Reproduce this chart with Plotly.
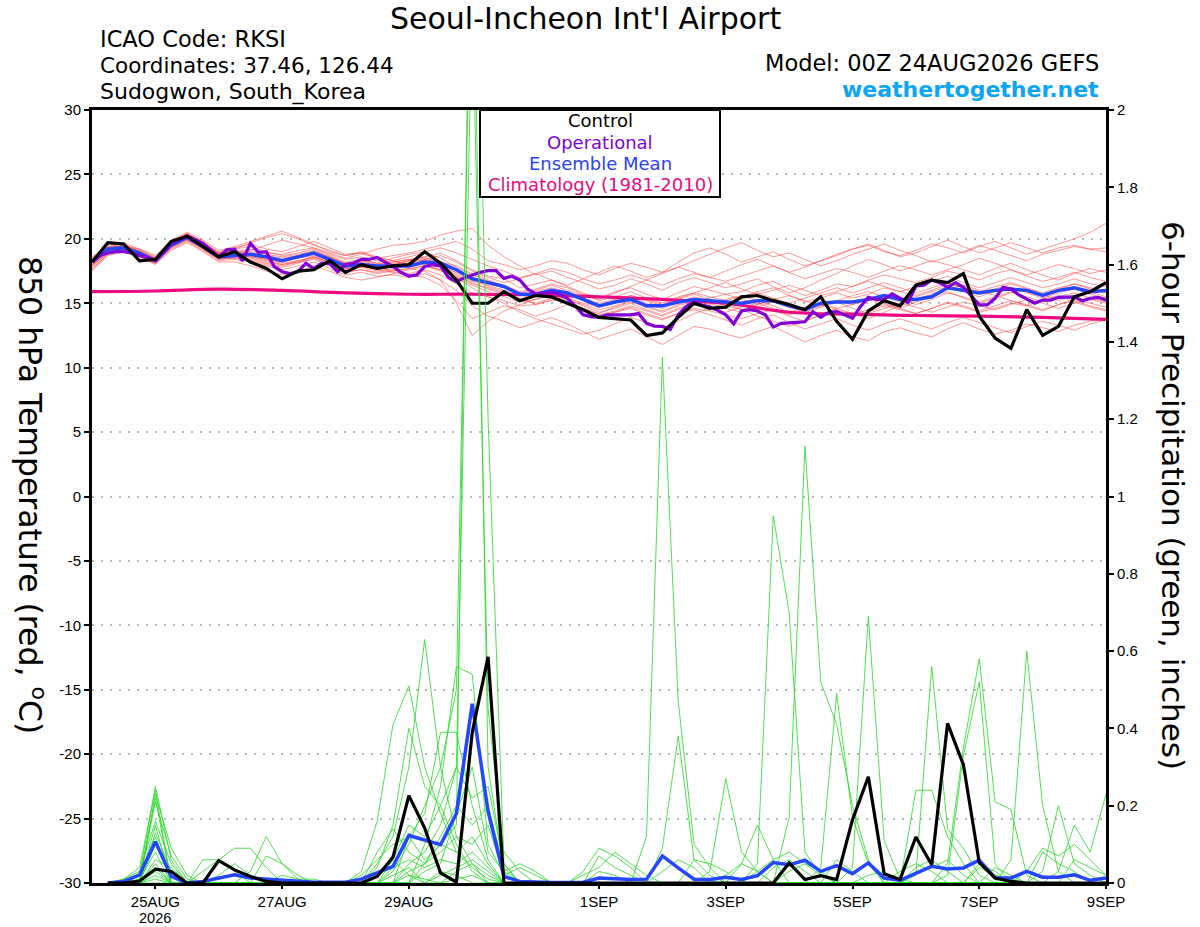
import pandas as pd
import plotly.graph_objects as go

START = "2026-08-24 00:00"

# 850 hPa temperature (deg C), 6-hourly from 00Z 24AUG
control_temp = [
    18.2, 19.7, 19.6, 18.3, 18.4, 19.8, 20.2, 19.4, 18.6, 19.0, 18.2, 17.7, 16.9,
    17.5, 17.6, 18.3, 17.4, 18.0, 17.7, 17.9, 18.0, 19.0, 18.1, 16.8, 15.0, 15.0,
    15.9, 15.2, 15.6, 15.5, 15.0, 14.5, 13.9, 13.8, 13.7, 12.5, 12.7, 13.9, 15.0,
    14.6, 14.7, 15.5, 15.6, 15.2, 14.9, 14.5, 15.5, 13.6, 12.2, 14.4, 15.2, 14.8,
    16.4, 16.8, 16.6, 17.3, 14.0, 12.3, 11.5, 14.5, 12.5, 13.2, 15.5, 15.9, 16.6,
]
mean_temp = [
    18.2, 19.2, 19.3, 18.9, 18.3, 19.5, 20.1, 19.4, 18.6, 18.7, 18.8, 18.6, 18.3,
    18.6, 18.9, 18.4, 17.9, 18.0, 17.9, 17.9, 17.9, 18.2, 18.1, 17.6, 16.9, 16.6,
    16.3, 15.7, 15.7, 16.0, 15.8, 15.3, 14.8, 15.1, 15.3, 14.8, 14.8, 15.1, 15.3,
    15.2, 15.1, 15.0, 15.2, 15.2, 14.8, 14.5, 15.0, 15.1, 15.1, 15.3, 15.6, 15.3,
    15.3, 15.5, 16.2, 16.0, 15.8, 16.0, 16.1, 16.0, 15.6, 16.0, 16.2, 15.9, 16.0,
]
# operational run, 3-hourly
oper_temp = [
    18.2, 18.7, 18.9, 19.0, 19.0, 18.9, 18.7, 18.55, 18.3, 18.9, 19.65, 19.95, 20.2,
    19.95, 19.65, 19.15, 18.6, 19.15, 19.2, 18.3, 19.65, 18.95, 19.0, 17.85, 17.45,
    17.3, 17.45, 18.1, 17.7, 18.1, 18.1, 17.45, 18.0, 18.1, 18.4, 18.4, 18.55, 18.2,
    17.85, 17.4, 17.1, 17.2, 17.85, 18.0, 17.9, 17.0, 16.67, 16.97, 17.2, 17.4, 17.53,
    17.53, 16.93, 17.1, 16.8, 16.1, 15.72, 15.8, 15.85, 15.7, 15.38, 14.8, 14.1, 13.96,
    13.9, 14.1, 14.1, 14.1, 14.1, 14.2, 13.44, 13.23, 13.2, 12.97, 14.1, 14.74, 15.13,
    14.87, 14.7, 14.45, 14.1, 13.4, 14.4, 14.5, 14.4, 14.1, 13.15, 13.44, 13.5, 13.53,
    13.56, 14.35, 13.9, 14.3, 14.35, 14.1, 13.83, 14.74, 15.46, 15.3, 15.3, 15.72, 15.38,
    15.05, 16.34, 16.4, 16.8, 16.6, 16.24, 16.6, 16.24, 15.56, 14.87, 14.87, 15.38, 16.24,
    16.1, 15.64, 15.3, 15.0, 15.25, 15.25, 15.46, 15.46, 15.5, 15.2, 15.38, 15.46, 15.25,
]
# climatology (1981-2010), daily at 00Z
clim_temp = [15.9, 15.95, 16.1, 16.0, 15.8, 15.7, 15.7, 15.65, 15.5,
             15.3, 15.0, 14.3, 14.15, 14.05, 14.0, 13.9, 13.75]

red_members = [
    [17.9, 19.0, 19.4, 19.1, 18.5, 19.8, 20.4, 19.8, 19.0, 19.3, 19.6, 19.2, 19.0,
     19.4, 19.8, 19.3, 18.8, 18.9, 18.5, 18.7, 18.9, 19.2, 19.5, 19.8, 19.2, 18.3,
     18.0, 17.6, 17.9, 18.3, 18.1, 17.6, 17.2, 17.7, 18.1, 17.8, 17.4, 18.2, 18.9,
     19.3, 18.8, 18.2, 18.6, 19.0, 18.4, 17.9, 18.3, 18.8, 19.2, 19.5, 19.0, 18.7,
     19.1, 19.6, 19.3, 18.9, 19.4, 19.8, 19.3, 18.8, 19.2, 19.6, 20.0, 20.5, 21.2],
    [18.0, 19.1, 19.0, 18.6, 18.0, 19.2, 19.8, 19.1, 18.3, 18.4, 18.2, 17.9, 17.6,
     17.9, 18.2, 17.7, 17.2, 17.4, 17.1, 17.2, 17.0, 17.3, 16.8, 16.0, 14.8, 14.0,
     13.6, 13.1, 13.5, 13.9, 13.4, 12.8, 12.2, 12.6, 13.0, 12.4, 11.8, 12.5, 13.2,
     13.0, 12.6, 12.3, 12.8, 13.2, 12.6, 12.0, 12.5, 12.9, 12.4, 12.1, 12.8, 13.1,
     12.7, 12.4, 13.0, 13.5, 13.0, 12.6, 12.9, 13.4, 13.1, 12.8, 13.3, 13.6, 13.8],
    [18.4, 19.4, 19.6, 19.0, 18.5, 19.7, 20.3, 19.6, 18.8, 19.0, 19.2, 18.9, 18.8,
     19.1, 19.3, 18.8, 18.4, 18.6, 18.3, 18.2, 18.4, 18.6, 18.9, 18.3, 17.6, 17.1,
     16.9, 16.2, 16.5, 16.8, 16.3, 15.8, 15.4, 15.9, 16.2, 15.7, 15.3, 15.8, 16.3,
     16.0, 15.7, 15.9, 16.4, 16.7, 16.1, 15.6, 16.0, 16.5, 16.3, 16.8, 17.2, 16.9,
     16.6, 17.0, 17.5, 17.2, 16.8, 17.3, 17.6, 17.1, 16.7, 17.0, 17.4, 17.0, 16.7],
    [17.6, 18.8, 19.1, 18.8, 18.2, 19.3, 19.9, 19.2, 18.4, 18.5, 18.3, 18.0, 17.8,
     18.1, 18.5, 18.0, 17.5, 17.6, 17.4, 17.6, 17.3, 17.6, 17.2, 16.5, 15.8, 15.5,
     15.2, 14.8, 14.9, 15.3, 15.0, 14.4, 14.0, 14.3, 14.6, 14.1, 13.7, 14.2, 14.6,
     14.4, 14.1, 13.8, 14.2, 14.5, 14.0, 13.6, 14.1, 14.4, 14.0, 14.3, 14.8, 14.5,
     14.2, 14.6, 15.0, 14.7, 14.3, 14.6, 15.0, 14.8, 14.4, 14.9, 15.2, 14.8, 14.5],
    [18.3, 19.2, 19.2, 18.7, 18.1, 19.4, 20.0, 19.3, 18.5, 18.8, 19.1, 19.5, 19.9,
     19.6, 19.3, 18.9, 18.5, 18.8, 19.2, 19.5, 19.6, 19.8, 20.3, 20.6, 20.8, 19.5,
     18.6, 17.9, 17.2, 17.5, 17.0, 16.6, 16.1, 16.4, 16.9, 16.5, 16.0, 16.6, 17.0,
     16.6, 16.2, 16.5, 16.9, 16.3, 15.8, 16.2, 16.8, 17.3, 17.9, 18.4, 18.0, 17.5,
     17.9, 18.3, 18.0, 17.6, 17.2, 17.7, 18.1, 17.6, 17.2, 16.8, 17.3, 17.7, 17.4],
    [17.8, 18.9, 19.3, 18.9, 18.4, 19.6, 20.2, 19.5, 18.7, 18.6, 18.5, 18.2, 18.0,
     18.3, 18.6, 18.2, 17.7, 17.9, 17.6, 17.4, 17.2, 17.0, 16.4, 15.2, 13.8, 14.3,
     14.8, 14.5, 14.0, 14.4, 14.9, 14.6, 14.2, 14.7, 15.1, 14.7, 14.3, 14.8, 15.2,
     14.9, 15.3, 15.6, 15.2, 14.8, 14.3, 14.7, 15.0, 14.6, 14.2, 13.8, 14.3, 14.8,
     15.3, 15.7, 16.1, 16.4, 16.0, 15.6, 15.2, 14.8, 15.3, 15.6, 15.1, 14.7, 14.4],
    [18.1, 19.3, 19.5, 19.2, 18.6, 19.9, 20.5, 19.9, 19.1, 19.4, 19.8, 20.2, 20.6,
     20.1, 19.6, 19.0, 18.7, 19.0, 18.6, 18.3, 18.0, 18.4, 18.7, 18.2, 17.5, 17.0,
     16.6, 16.9, 17.3, 16.8, 16.4, 16.9, 17.4, 17.9, 17.5, 17.0, 17.4, 17.8, 18.3,
     18.8, 19.3, 19.7, 19.1, 18.6, 18.9, 18.4, 17.9, 18.3, 18.8, 19.2, 19.6, 19.1,
     18.7, 18.2, 18.6, 19.0, 19.5, 19.1, 18.7, 18.3, 18.8, 19.1, 19.4, 19.2, 19.3],
    [17.5, 18.7, 19.0, 18.6, 18.1, 19.1, 19.7, 19.0, 18.2, 18.2, 17.9, 17.5, 17.2,
     17.4, 17.9, 17.5, 17.0, 16.8, 17.0, 17.3, 17.6, 17.9, 17.6, 17.0, 16.2, 15.5,
     15.0, 14.3, 13.8, 13.4, 13.0, 12.6, 12.9, 13.4, 13.9, 13.5, 13.1, 13.6, 14.2,
     14.6, 15.0, 14.5, 14.0, 13.6, 13.2, 13.6, 14.1, 14.6, 14.9, 15.3, 15.0, 14.6,
     15.1, 15.5, 15.9, 15.4, 15.0, 15.4, 15.8, 16.1, 15.7, 15.2, 15.6, 15.9, 15.5],
    [18.2, 19.1, 19.4, 19.0, 18.3, 19.5, 20.2, 19.4, 18.6, 18.9, 18.9, 18.7, 18.5,
     18.7, 19.1, 18.6, 18.0, 18.2, 17.9, 18.1, 18.3, 18.5, 18.2, 17.9, 17.3, 16.8,
     16.4, 15.9, 16.1, 16.5, 16.2, 15.7, 15.2, 15.5, 15.9, 15.4, 15.0, 15.5, 15.8,
     15.5, 15.2, 15.5, 15.9, 16.2, 15.6, 15.1, 15.4, 15.8, 15.4, 15.7, 16.2, 15.9,
     15.6, 16.0, 16.5, 16.2, 15.9, 16.3, 16.6, 16.2, 15.8, 16.2, 16.5, 16.1, 15.8],
    [18.5, 19.5, 19.7, 19.2, 18.7, 19.8, 20.4, 19.7, 18.9, 19.1, 18.7, 18.4, 18.2,
     18.5, 18.8, 18.4, 17.9, 18.1, 17.8, 17.5, 17.7, 17.9, 17.5, 17.1, 16.6, 16.1,
     15.7, 15.3, 15.0, 15.4, 15.1, 14.5, 14.0, 14.3, 14.7, 14.2, 13.8, 14.2, 14.5,
     14.1, 13.7, 13.3, 13.8, 14.1, 13.5, 13.0, 13.4, 13.8, 13.3, 12.9, 13.4, 13.8,
     13.4, 13.0, 13.5, 13.9, 13.5, 13.1, 12.7, 13.2, 13.6, 13.3, 12.9, 13.4, 13.7],
    [17.9, 18.9, 19.1, 18.8, 18.3, 19.6, 20.3, 19.6, 18.9, 19.2, 19.4, 19.0, 18.7,
     18.9, 19.2, 18.7, 18.2, 18.4, 18.1, 18.5, 18.8, 19.0, 19.3, 18.9, 18.4, 17.9,
     17.5, 17.0, 17.3, 17.7, 17.4, 16.9, 16.5, 16.8, 17.2, 16.8, 16.4, 16.9, 17.3,
     17.0, 16.7, 17.1, 17.5, 17.9, 17.4, 16.9, 17.3, 17.7, 17.4, 17.0, 17.5, 17.9,
     17.6, 17.2, 17.6, 18.0, 18.5, 18.1, 17.6, 17.2, 17.6, 18.0, 17.7, 17.3, 17.6],
    [18.3, 19.3, 19.2, 18.8, 18.2, 19.4, 20.0, 19.3, 18.5, 18.7, 18.6, 18.4, 18.1,
     18.3, 18.6, 18.1, 17.6, 17.8, 17.7, 17.8, 17.9, 18.1, 17.8, 17.2, 16.5, 16.2,
     15.8, 15.3, 15.6, 15.9, 15.3, 14.8, 14.3, 14.6, 15.0, 14.5, 14.1, 14.6, 15.0,
     15.4, 15.7, 15.3, 14.9, 15.3, 15.6, 15.2, 14.8, 15.2, 15.6, 15.9, 15.5, 15.1,
     15.5, 15.9, 16.3, 15.9, 15.5, 15.9, 16.2, 15.8, 15.4, 15.8, 16.1, 15.7, 15.4],
    [18.0, 19.0, 19.3, 19.0, 18.4, 19.6, 20.2, 19.5, 18.8, 19.2, 19.7, 20.1, 20.4,
     20.0, 19.5, 19.1, 18.7, 18.9, 18.5, 18.3, 18.6, 18.9, 18.5, 17.8, 17.2, 16.7,
     16.3, 15.8, 15.5, 15.8, 15.4, 15.0, 14.7, 15.0, 15.4, 15.0, 14.6, 15.1, 15.5,
     15.2, 14.8, 14.5, 14.9, 15.3, 14.8, 14.4, 14.8, 15.2, 14.9, 15.3, 15.7, 15.3,
     14.9, 15.3, 15.8, 15.5, 15.1, 15.5, 15.9, 15.5, 15.1, 15.5, 15.8, 15.4, 15.1],
    [18.1, 19.2, 19.4, 18.9, 18.3, 19.4, 20.0, 19.3, 18.5, 18.5, 18.4, 18.1, 17.9,
     18.2, 18.4, 17.9, 17.4, 17.6, 17.3, 17.5, 17.7, 17.5, 16.8, 15.0, 12.5, 13.6,
     14.4, 14.9, 15.3, 15.7, 15.3, 14.9, 14.5, 14.8, 15.2, 14.8, 14.4, 14.9, 15.3,
     15.0, 14.6, 14.3, 14.7, 15.1, 14.7, 14.3, 14.7, 15.1, 14.6, 14.2, 14.6, 15.0,
     14.7, 14.3, 14.7, 15.1, 14.8, 14.5, 14.9, 15.3, 15.0, 14.6, 15.0, 15.3, 15.0],
    [18.2, 19.0, 19.2, 18.7, 18.2, 19.3, 19.9, 19.2, 18.4, 18.6, 18.7, 18.5, 18.3,
     18.6, 19.0, 18.6, 18.1, 18.3, 18.0, 18.2, 18.4, 18.3, 17.9, 17.4, 16.9, 16.5,
     16.2, 15.8, 16.0, 16.4, 16.0, 15.6, 15.3, 15.8, 16.3, 16.8, 17.3, 17.8, 17.4,
     17.0, 17.5, 18.0, 18.4, 17.9, 17.4, 17.8, 18.3, 18.7, 19.2, 19.6, 19.1, 18.6,
     18.9, 19.4, 19.9, 19.4, 18.9, 19.3, 19.7, 19.3, 18.9, 19.3, 19.5, 19.2, 19.0],
    [18.4, 19.3, 19.5, 19.1, 18.5, 19.6, 20.1, 19.4, 18.6, 18.8, 18.6, 18.3, 18.0,
     18.2, 18.6, 18.2, 17.7, 17.8, 17.5, 17.7, 17.9, 18.0, 17.6, 17.0, 16.4, 15.9,
     15.5, 15.1, 15.3, 15.6, 15.2, 14.6, 14.1, 14.4, 14.8, 14.4, 14.0, 14.5, 14.9,
     14.6, 14.3, 14.7, 15.0, 14.6, 14.1, 14.5, 14.9, 14.5, 14.1, 14.5, 14.9, 14.6,
     14.2, 14.6, 15.1, 14.8, 14.4, 14.8, 15.2, 14.9, 14.5, 14.9, 15.3, 15.0, 14.7],
    [17.7, 18.8, 19.2, 18.9, 18.3, 19.5, 20.3, 19.7, 18.9, 19.0, 19.0, 18.8, 18.6,
     18.8, 19.0, 18.5, 18.1, 18.3, 18.1, 18.0, 18.2, 18.4, 18.1, 17.6, 17.0, 16.3,
     15.9, 15.4, 14.9, 15.2, 15.6, 15.2, 14.8, 15.2, 15.6, 15.3, 14.9, 15.4, 15.8,
     16.2, 16.6, 16.1, 15.7, 16.0, 16.4, 16.0, 15.6, 15.9, 16.3, 16.7, 16.3, 15.9,
     16.3, 16.7, 17.1, 16.6, 16.2, 16.6, 17.0, 16.6, 16.2, 16.5, 16.9, 16.5, 16.3],
    [18.6, 19.4, 19.4, 18.9, 18.4, 19.7, 20.4, 19.6, 18.7, 18.6, 18.8, 18.6, 18.4,
     18.5, 18.7, 18.3, 17.8, 18.0, 17.8, 18.0, 18.3, 18.6, 18.0, 17.3, 16.7, 16.4,
     16.0, 15.6, 15.9, 16.2, 15.9, 15.4, 15.0, 15.3, 15.6, 15.2, 14.8, 15.3, 15.7,
     15.3, 15.0, 15.4, 15.8, 15.4, 15.0, 15.4, 15.8, 16.2, 15.8, 16.2, 16.6, 16.2,
     15.8, 16.2, 16.6, 16.2, 15.8, 16.1, 16.5, 16.1, 15.7, 16.1, 16.5, 16.2, 16.0],
]

# 6-hour precipitation (inches), 6-hourly from 06Z 24AUG
control_precip = [
    0, 0, 0.005, 0.036, 0.03, 0, 0, 0.058, 0.034, 0.017, 0.004, 0, 0, 0, 0, 0,
    0, 0.017, 0.067, 0.226, 0.142, 0.026, 0.002, 0.39, 0.585, 0, 0, 0, 0, 0, 0, 0,
    0, 0, 0, 0, 0, 0, 0, 0, 0, 0, 0, 0.052, 0.009, 0.019, 0.009, 0.164,
    0.275, 0.024, 0.009, 0.119, 0.047, 0.413, 0.306, 0.053, 0.013, 0.004, 0, 0, 0, 0, 0, 0,
]
mean_precip = [
    0, 0.004, 0.021, 0.107, 0.017, 0, 0.004, 0.013, 0.021, 0.013, 0.01, 0.009, 0.004, 0.002, 0.002, 0.002,
    0.01, 0.026, 0.043, 0.123, 0.112, 0.099, 0.18, 0.464, 0.185, 0.017, 0.004, 0.002, 0.001, 0.001, 0.002, 0.013,
    0.01, 0.009, 0.01, 0.07, 0.039, 0.01, 0.009, 0.015, 0.009, 0.019, 0.053, 0.047, 0.059, 0.03, 0.045, 0.024,
    0.052, 0.013, 0.007, 0.024, 0.043, 0.036, 0.039, 0.059, 0.013, 0.013, 0.03, 0.015, 0.015, 0.021, 0.007, 0.013,
]
# ensemble members, hundredths of an inch
green_members = [
    [0, 0, 2, 25, 6, 0, 0, 0, 0, 0, 0, 0, 0, 0, 0, 0,
     0, 0, 0, 0, 5, 10, 15, 290, 120, 5, 0, 0, 0, 0, 0, 0,
     0, 0, 0, 0, 0, 0, 0, 0, 0, 0, 0, 0, 0, 0, 0, 0,
     0, 0, 0, 24, 24, 12, 5, 0, 0, 0, 0, 0, 0, 0, 0, 0],
    [0, 1, 4, 24, 0, 0, 0, 0, 0, 0, 0, 0, 0, 0, 0, 0,
     0, 0, 3, 10, 20, 30, 50, 260, 30, 3, 0, 0, 0, 0, 0, 0,
     0, 0, 0, 0, 0, 0, 0, 0, 0, 0, 4, 6, 3, 0, 6, 3,
     0, 0, 0, 0, 0, 0, 0, 0, 0, 0, 0, 0, 0, 0, 0, 0],
    [0, 0, 0, 23, 9, 2, 0, 0, 0, 0, 0, 0, 0, 0, 0, 0,
     0, 0, 0, 5, 8, 15, 30, 230, 45, 8, 3, 0, 0, 0, 0, 0,
     0, 0, 0, 0, 0, 0, 0, 0, 5, 15, 6, 0, 0, 0, 0, 0,
     0, 0, 0, 3, 4, 6, 2, 0, 0, 0, 0, 0, 0, 0, 0, 0],
    [0, 0, 1, 22, 0, 0, 3, 6, 9, 9, 4, 0, 0, 0, 0, 0,
     3, 16, 41, 51, 30, 18, 8, 4, 1, 0, 0, 0, 0, 0, 0, 0,
     0, 0, 0, 0, 0, 0, 0, 0, 0, 0, 0, 0, 0, 0, 0, 0,
     0, 0, 0, 2, 56, 14, 9, 2, 0, 0, 0, 0, 0, 0, 0, 0],
    [0, 0, 0, 21, 7, 1, 0, 0, 0, 0, 0, 0, 0, 0, 0, 0,
     0, 5, 12, 30, 63, 30, 12, 5, 0, 0, 0, 0, 0, 0, 0, 0,
     0, 0, 0, 0, 0, 0, 0, 0, 0, 0, 0, 0, 0, 0, 0, 0,
     0, 0, 0, 0, 0, 5, 35, 58, 21, 19, 2, 0, 0, 0, 0, 0],
    [0, 1, 3, 16, 5, 0, 0, 0, 0, 0, 0, 0, 0, 0, 0, 0,
     0, 4, 15, 40, 25, 20, 10, 3, 0, 0, 0, 0, 0, 0, 3, 9,
     7, 4, 0, 0, 0, 0, 0, 0, 0, 0, 0, 3, 5, 3, 0, 0,
     2, 3, 0, 0, 0, 0, 0, 0, 0, 0, 0, 0, 0, 0, 0, 0],
    [0, 0, 0, 15, 0, 0, 6, 6, 3, 0, 0, 0, 0, 0, 0, 0,
     0, 0, 0, 0, 10, 25, 56, 54, 10, 2, 0, 0, 0, 0, 0, 0,
     0, 0, 0, 0, 0, 0, 3, 27, 8, 3, 0, 0, 0, 0, 0, 0,
     0, 0, 0, 0, 0, 0, 0, 4, 2, 1, 0, 0, 0, 0, 0, 0],
    [0, 0, 0, 13, 3, 0, 0, 0, 0, 0, 0, 0, 0, 0, 0, 0,
     0, 0, 0, 12, 18, 39, 39, 20, 6, 0, 0, 0, 0, 0, 0, 7,
     4, 2, 0, 0, 0, 0, 0, 0, 0, 0, 0, 0, 0, 0, 0, 0,
     0, 0, 0, 0, 0, 2, 33, 52, 5, 0, 0, 0, 0, 0, 0, 0],
    [0, 0, 2, 12, 0, 0, 0, 0, 0, 3, 12, 5, 2, 0, 0, 0,
     0, 0, 6, 15, 12, 20, 30, 22, 25, 5, 0, 0, 0, 0, 0, 0,
     0, 0, 0, 0, 0, 0, 0, 0, 0, 0, 0, 0, 0, 0, 0, 0,
     0, 0, 0, 0, 0, 0, 0, 0, 0, 6, 60, 20, 3, 0, 0, 0],
    [0, 0, 0, 10, 2, 0, 0, 0, 0, 0, 0, 0, 0, 0, 0, 0,
     0, 8, 14, 8, 5, 12, 20, 15, 20, 4, 0, 0, 0, 0, 2, 4,
     8, 5, 2, 0, 0, 0, 0, 0, 0, 0, 0, 0, 0, 0, 0, 0,
     0, 0, 0, 0, 0, 0, 0, 0, 0, 0, 0, 3, 20, 5, 2, 0],
    [0, 0, 1, 8, 0, 0, 0, 0, 0, 0, 0, 0, 0, 0, 0, 0,
     2, 6, 10, 12, 6, 10, 8, 12, 5, 0, 0, 0, 0, 0, 0, 0,
     0, 0, 12, 136, 47, 10, 4, 0, 0, 0, 0, 0, 0, 0, 0, 0,
     0, 0, 0, 0, 0, 0, 0, 0, 0, 0, 0, 0, 3, 15, 8, 23],
    [0, 0, 0, 6, 4, 0, 0, 0, 0, 0, 7, 5, 1, 0, 0, 0,
     0, 0, 4, 6, 4, 6, 5, 8, 4, 0, 0, 0, 0, 0, 0, 0,
     0, 0, 0, 9, 38, 6, 2, 0, 0, 0, 0, 0, 0, 0, 0, 0,
     0, 0, 0, 0, 0, 0, 0, 0, 0, 0, 3, 9, 7, 10, 6, 2],
    [0, 0, 0, 5, 0, 0, 0, 0, 0, 0, 0, 0, 0, 0, 0, 0,
     0, 0, 0, 3, 5, 8, 12, 10, 15, 2, 4, 2, 0, 0, 0, 0,
     0, 0, 0, 0, 0, 0, 0, 0, 0, 5, 95, 70, 8, 2, 0, 0,
     0, 0, 0, 0, 0, 0, 0, 0, 0, 0, 0, 0, 0, 0, 0, 0],
    [0, 0, 0, 4, 0, 0, 0, 2, 5, 2, 0, 0, 0, 0, 0, 0,
     0, 0, 0, 0, 3, 5, 18, 30, 8, 3, 5, 3, 0, 0, 0, 0,
     0, 0, 0, 0, 0, 0, 0, 0, 0, 0, 0, 17, 113, 52, 41, 20,
     6, 0, 0, 0, 0, 0, 0, 0, 0, 0, 0, 0, 0, 0, 0, 0],
    [0, 0, 0, 3, 0, 0, 0, 0, 0, 0, 0, 0, 0, 0, 0, 0,
     0, 0, 2, 4, 0, 2, 4, 6, 3, 0, 0, 0, 0, 0, 0, 3,
     2, 0, 0, 0, 0, 0, 0, 0, 0, 0, 0, 0, 0, 4, 49, 17,
     5, 0, 0, 0, 0, 0, 0, 0, 0, 0, 0, 0, 0, 0, 0, 0],
    [0, 0, 0, 2, 0, 0, 0, 0, 0, 0, 0, 2, 1, 1, 0, 0,
     0, 2, 6, 2, 0, 3, 2, 0, 0, 0, 0, 0, 0, 0, 0, 0,
     0, 0, 0, 0, 0, 6, 5, 3, 0, 0, 0, 0, 0, 0, 0, 4,
     69, 11, 1, 0, 0, 0, 0, 0, 0, 0, 0, 0, 0, 0, 0, 0],
    [0, 0, 0, 1, 0, 0, 0, 0, 0, 0, 0, 0, 0, 0, 0, 0,
     0, 0, 0, 2, 1, 0, 3, 5, 2, 0, 0, 0, 0, 0, 0, 0,
     0, 0, 0, 3, 6, 4, 0, 2, 5, 3, 0, 0, 0, 0, 0, 0,
     0, 0, 3, 5, 3, 0, 0, 0, 4, 2, 0, 8, 5, 3, 0, 0],
    [0, 0, 0, 0, 0, 0, 0, 0, 0, 0, 0, 0, 0, 0, 0, 0,
     0, 0, 0, 0, 0, 0, 1, 2, 0, 0, 0, 0, 0, 0, 0, 0,
     0, 0, 0, 0, 0, 0, 0, 0, 0, 3, 6, 8, 5, 2, 0, 0,
     0, 0, 0, 4, 6, 3, 0, 5, 3, 0, 0, 0, 0, 6, 4, 2],
]

tick_dates = ["2026-08-25", "2026-08-27", "2026-08-29", "2026-09-01",
              "2026-09-03", "2026-09-05", "2026-09-07", "2026-09-09"]
tick_labels = ["25AUG", "27AUG", "29AUG", "1SEP", "3SEP", "5SEP", "7SEP", "9SEP"]
year_label = "2026"
temp_ticks = list(range(-30, 31, 5))
precip_ticks = [0, 0.2, 0.4, 0.6, 0.8, 1, 1.2, 1.4, 1.6, 1.8, 2]

t6 = pd.date_range(START, periods=len(control_temp), freq="6h")
t3 = pd.date_range(START, periods=len(oper_temp), freq="3h")
t24 = pd.date_range(START, periods=len(clim_temp), freq="D")
tp = t6[1:]

fig = go.Figure()

for m in red_members:
    fig.add_trace(go.Scatter(x=t6, y=m, mode="lines", hoverinfo="skip",
                             line=dict(color="rgba(255,45,45,0.55)", width=0.9)))

fig.add_trace(go.Scatter(x=t24, y=clim_temp, mode="lines",
                         line=dict(color="#ee0a80", width=3.2, shape="spline")))
fig.add_trace(go.Scatter(x=t6, y=mean_temp, mode="lines",
                         line=dict(color="#2446ff", width=3.5)))
fig.add_trace(go.Scatter(x=t3, y=oper_temp, mode="lines",
                         line=dict(color="#8200d6", width=3.2)))
fig.add_trace(go.Scatter(x=t6, y=control_temp, mode="lines",
                         line=dict(color="black", width=3.2)))

for m in green_members:
    fig.add_trace(go.Scatter(x=tp, y=[v / 100 for v in m], mode="lines", yaxis="y2",
                             hoverinfo="skip",
                             line=dict(color="rgba(40,215,40,0.9)", width=0.9)))
fig.add_trace(go.Scatter(x=tp, y=mean_precip, mode="lines", yaxis="y2",
                         line=dict(color="#2446ff", width=3.5)))
fig.add_trace(go.Scatter(x=tp, y=control_precip, mode="lines", yaxis="y2",
                         line=dict(color="black", width=3.2)))

TXT = "DejaVu Sans"
TICK = dict(family="Liberation Sans, Arial", size=15, color="black")

# plot box on the page: 92..1106 px across, 110..883 px down
def px(x):
    return (x - 92) / 1014

def py(y):
    return (883 - y) / 773

notes = [
    dict(text="Seoul-Incheon Int'l Airport", x=px(585), y=py(19), size=30, anchor="center"),
    dict(text="ICAO Code: RKSI", x=px(98), y=py(39), size=22.5, anchor="left"),
    dict(text="Coordinates: 37.46, 126.44", x=px(98), y=py(66), size=21.5, anchor="left"),
    dict(text="Sudogwon, South_Korea", x=px(98), y=py(92), size=22, anchor="left"),
    dict(text="Model: 00Z 24AUG2026 GEFS", x=px(1101), y=py(63), size=22.5, anchor="right"),
]
annotations = []
for n in notes:
    annotations.append(dict(text=n["text"], x=n["x"], y=n["y"], xref="paper", yref="paper",
                            xanchor=n["anchor"], yanchor="middle", showarrow=False,
                            font=dict(family=TXT, size=n["size"], color="black")))
annotations.append(dict(text="<b>weathertogether.net</b>", x=px(1101), y=py(89),
                        xref="paper", yref="paper", xanchor="right", yanchor="middle",
                        showarrow=False, font=dict(family=TXT, size=22, color="#0aa6f5")))

legend_rows = [("Control", "black", 121), ("Operational", "#8200d6", 142),
               ("Ensemble Mean", "#2a40ff", 163), ("Climatology (1981-2010)", "#ea0a80", 185)]
for label, col, ypx in legend_rows:
    annotations.append(dict(text=label, x=px(600), y=py(ypx), xref="paper", yref="paper",
                            xanchor="center", yanchor="middle", showarrow=False,
                            font=dict(family=TXT, size=18, color=col)))

annotations.append(dict(text="850 hPa Temperature (red, <sup>o</sup>C)", x=px(32), y=py(495),
                        xref="paper", yref="paper", xanchor="center", yanchor="middle",
                        textangle=90, showarrow=False,
                        font=dict(family=TXT, size=31.5, color="black")))
annotations.append(dict(text="6-hour Precipitation (green, inches)", x=px(1173), y=py(495),
                        xref="paper", yref="paper", xanchor="center", yanchor="middle",
                        textangle=90, showarrow=False,
                        font=dict(family=TXT, size=31, color="black")))
# year under the first date label
annotations.append(dict(text=year_label, x=tick_dates[0], y=py(909), xref="x", yref="paper",
                        xanchor="center", yanchor="top", showarrow=False,
                        borderpad=0,
                        font=dict(family="Liberation Sans, Arial", size=14.5, color="black")))

fig.update_layout(
    width=1200, height=927,
    margin=dict(l=92, r=94, t=110, b=44),
    paper_bgcolor="white", plot_bgcolor="white",
    showlegend=False,
    xaxis=dict(type="date", range=[t6[0], t6[-1]], tickvals=tick_dates, ticktext=tick_labels,
               automargin=False,
               showgrid=False, zeroline=False, showline=True, linecolor="black", linewidth=3,
               mirror=True, ticks="outside", ticklen=3, tickwidth=1.5, tickcolor="black",
               tickfont=TICK),
    yaxis=dict(range=[-30, 30], tickvals=temp_ticks, ticktext=[str(v) for v in temp_ticks],
               automargin=False,
               showgrid=True, gridcolor="#b8b8b8", gridwidth=1.5, griddash="2px,7px",
               zeroline=False, showline=True, linecolor="black", linewidth=3,
               ticks="outside", ticklen=5, tickwidth=1.5, tickcolor="black", tickfont=TICK),
    yaxis2=dict(range=[0, 2], overlaying="y", side="right", tickvals=precip_ticks,
                ticktext=[f"{v:g}" for v in precip_ticks], automargin=False,
                showgrid=False, zeroline=False,
                showline=True, linecolor="black", linewidth=3, ticks="outside", ticklen=5,
                tickwidth=1.5, tickcolor="black", tickfont=TICK),
    shapes=[dict(type="rect", xref="paper", yref="paper", x0=px(480), x1=px(720),
                 y0=py(197), y1=1.0, line=dict(color="black", width=2),
                 fillcolor="white", layer="above")],
    annotations=annotations,
)

# drop the browser's default page margin so the figure sits at the window corner
fig.write_html("out.html", config={"displayModeBar": False},
               post_script="document.body.style.margin='0';")
